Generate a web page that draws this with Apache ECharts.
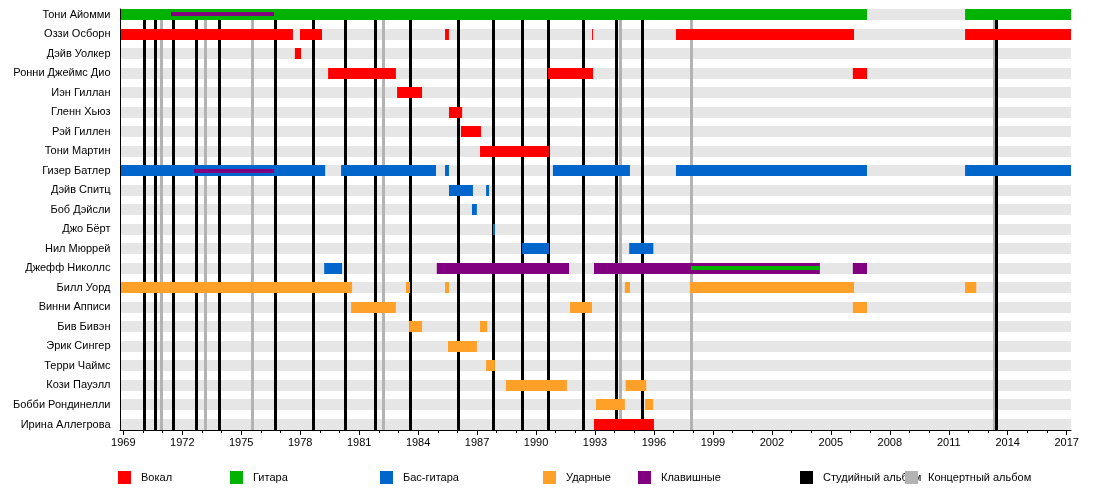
<!DOCTYPE html>
<html>
<head>
<meta charset="utf-8">
<title>Black Sabbath</title>
<script src="https://cdn.jsdelivr.net/npm/echarts@6/dist/echarts.min.js"></script>
<style>
    html, body {margin: 0; padding: 0; background: #fff;}
    #chart {width: 1100px; height: 489px;}
</style>
</head>
<body>
<div id="chart"></div>
<script>
// участники сверху вниз
var members = [
    'Тони Айомми', 'Оззи Осборн', 'Дэйв Уолкер', 'Ронни Джеймс Дио', 'Иэн Гиллан',
    'Гленн Хьюз', 'Рэй Гиллен', 'Тони Мартин', 'Гизер Батлер', 'Дэйв Спитц',
    'Боб Дэйсли', 'Джо Бёрт', 'Нил Мюррей', 'Джефф Николлс', 'Билл Уорд',
    'Винни Апписи', 'Бив Бивэн', 'Эрик Сингер', 'Терри Чаймс', 'Кози Пауэлл',
    'Бобби Рондинелли', 'Ирина Аллегрова'
];

var yearMin = 1968.857;
var yearMax = 2017.22;

// шкала: подписи каждые 3 года с 1969 по 2017
var tickStart = 1969;
var tickStep = 3;
var tickCount = 17;

var vocals = [
    ['Оззи Осборн', 1968.857, 1977.63], ['Оззи Осборн', 1977.99, 1979.11],
    ['Оззи Осборн', 1985.37, 1985.57], ['Оззи Осборн', 1992.85, 1992.9],
    ['Оззи Осборн', 1997.12, 2006.18], ['Оззи Осборн', 2011.83, 2017.22],
    ['Дэйв Уолкер', 1977.73, 1978.04],
    ['Ронни Джеймс Дио', 1979.42, 1982.87], ['Ронни Джеймс Дио', 1990.61, 1992.9],
    ['Ронни Джеймс Дио', 2006.12, 2006.84],
    ['Иэн Гиллан', 1982.93, 1984.2],
    ['Гленн Хьюз', 1985.57, 1986.24],
    ['Рэй Гиллен', 1986.18, 1987.2],
    ['Тони Мартин', 1987.15, 1990.66],
    ['Ирина Аллегрова', 1992.95, 1996.0]
];

var guitar = [
    ['Тони Айомми', 1968.857, 2006.84], ['Тони Айомми', 2011.83, 2017.22]
];
var guitarThin = [
    ['Джефф Николлс', 1997.88, 2004.44]
];

var bass = [
    ['Гизер Батлер', 1968.857, 1979.27], ['Гизер Батлер', 1980.08, 1984.91],
    ['Гизер Батлер', 1985.37, 1985.57], ['Гизер Батлер', 1990.86, 1994.78],
    ['Гизер Батлер', 1997.12, 2006.84], ['Гизер Батлер', 2011.83, 2017.22],
    ['Дэйв Спитц', 1985.57, 1986.79], ['Дэйв Спитц', 1987.46, 1987.61],
    ['Боб Дэйсли', 1986.74, 1986.99],
    ['Джо Бёрт', 1987.81, 1987.91],
    ['Нил Мюррей', 1989.29, 1990.66], ['Нил Мюррей', 1994.74, 1995.97],
    ['Джефф Николлс', 1979.22, 1980.13]
];

var drums = [
    ['Билл Уорд', 1968.857, 1980.64], ['Билл Уорд', 1983.38, 1983.59],
    ['Билл Уорд', 1985.37, 1985.57], ['Билл Уорд', 1994.52, 1994.78],
    ['Билл Уорд', 1997.83, 2006.18], ['Билл Уорд', 2011.83, 2012.4],
    ['Винни Апписи', 1980.59, 1982.87], ['Винни Апписи', 1991.73, 1992.85],
    ['Винни Апписи', 2006.12, 2006.84],
    ['Бив Бивэн', 1983.54, 1984.2], ['Бив Бивэн', 1987.15, 1987.51],
    ['Эрик Сингер', 1985.52, 1986.99],
    ['Терри Чаймс', 1987.46, 1987.91],
    ['Кози Пауэлл', 1988.47, 1991.57], ['Кози Пауэлл', 1994.56, 1995.61],
    ['Бобби Рондинелли', 1993.05, 1994.52], ['Бобби Рондинелли', 1995.55, 1995.96]
];

var keys = [
    ['Джефф Николлс', 1984.95, 1991.68], ['Джефф Николлс', 1992.95, 2004.44],
    ['Джефф Николлс', 2006.12, 2006.84]
];
var keysThin = [
    ['Тони Айомми', 1971.43, 1976.67], ['Гизер Батлер', 1972.6, 1976.67]
];

var studioAlbums = [1970.10, 1970.66, 1971.53, 1972.70, 1973.87, 1976.72, 1978.70,
    1980.28, 1981.81, 1983.60, 1986.05, 1987.83, 1989.30, 1990.62, 1992.44,
    1994.08, 1995.41, 2013.44];
var liveAlbums = [1970.92, 1973.16, 1975.55, 1982.26, 1994.28, 1997.90, 2013.32];

var FONT = "'Liberation Sans', Arial, sans-serif";

function toRows(list) {
    return list.map(function (d) {
        return [members.indexOf(d[0]), d[1], d[2]];
    });
}

// полоса участника
function barRenderer(h) {
    return function (params, api) {
        var row = api.value(0);
        var p0 = api.coord([api.value(1), row]);
        var p1 = api.coord([api.value(2), row]);
        return {
            type: 'rect',
            shape: {
                x: p0[0],
                y: Math.round(p0[1] - h / 2),
                width: Math.max(p1[0] - p0[0], 1),
                height: h
            },
            style: {fill: api.visual('color')}
        };
    };
}

// вертикальная линия альбома
function albumRenderer(params, api) {
    var year = api.value(0);
    var top = api.coord([year, 0]);
    var bottom = api.coord([year, members.length - 1]);
    var y0 = Math.round(top[1] - 5.5);
    var y1 = Math.round(bottom[1] - 5.5) + 11;
    return {
        type: 'rect',
        shape: {x: Math.round(top[0] - 1.5), y: y0, width: 3, height: y1 - y0},
        style: {fill: api.visual('color')}
    };
}

function barSeries(name, color, list, h, z) {
    return {
        name: name,
        type: 'custom',
        xAxisIndex: 0,
        yAxisIndex: 0,
        z: z,
        silent: true,
        itemStyle: {color: color},
        encode: {x: [1, 2], y: 0},
        renderItem: barRenderer(h),
        data: toRows(list)
    };
}

function albumSeries(name, color, list, z) {
    return {
        name: name,
        type: 'custom',
        xAxisIndex: 0,
        yAxisIndex: 0,
        z: z,
        silent: true,
        itemStyle: {color: color},
        encode: {x: 0, y: 1},
        renderItem: albumRenderer,
        data: list.map(function (y) { return [y, 0]; })
    };
}

var legendNames = ['Вокал', 'Гитара', 'Бас-гитара', 'Ударные', 'Клавишные', 'Студийный альбом', 'Концертный альбом'];
var legendLeft = [118, 230, 380, 543, 638, 800, 905];

var mychart = echarts.init(document.getElementById('chart'), null, {renderer: 'canvas'});

var option = {
    animation: false,
    backgroundColor: '#fff',
    textStyle: {fontFamily: FONT},
    grid: [
        {left: 120.5, right: 29, top: 4.738, height: 429.5},
        {left: 123.3, right: 33.3, top: 429, height: 1},
        {left: 120, top: 9, width: 951, height: 421}
    ],
    xAxis: [
        {gridIndex: 0, type: 'value', min: yearMin, max: yearMax, show: false},
        {
            gridIndex: 1, type: 'value', position: 'bottom',
            min: 0, max: (tickCount - 1) * tickStep, interval: tickStep,
            axisLine: {show: false},
            axisTick: {show: true, length: 5, lineStyle: {color: '#000'}},
            minorTick: {show: true, splitNumber: tickStep, length: 3, lineStyle: {color: '#000'}},
            splitLine: {show: false},
            minorSplitLine: {show: false},
            axisLabel: {
                margin: 7, fontSize: 11, color: '#000', fontFamily: FONT,
                formatter: function (v) { return String(tickStart + v); }
            }
        },
        {
            gridIndex: 2, type: 'value', min: 0, max: 1, z: 10,
            axisLine: {show: true, lineStyle: {color: '#000', width: 1}},
            axisTick: {show: false}, axisLabel: {show: false}, splitLine: {show: false}
        }
    ],
    yAxis: [
        {
            gridIndex: 0, type: 'category', inverse: true, data: members,
            axisLine: {show: false}, axisTick: {show: false}, splitLine: {show: false},
            axisLabel: {margin: 10, fontSize: 11, color: '#000', fontFamily: FONT}
        },
        {gridIndex: 1, type: 'value', show: false},
        {
            gridIndex: 2, type: 'value', min: 0, max: 1, z: 10,
            axisLine: {show: true, lineStyle: {color: '#000', width: 1}},
            axisTick: {show: false}, axisLabel: {show: false}, splitLine: {show: false}
        }
    ],
    legend: legendNames.map(function (name, i) {
        return {
            data: [name],
            left: legendLeft[i],
            top: 471,
            padding: 0,
            icon: 'rect',
            itemWidth: 13,
            itemHeight: 13,
            selectedMode: false,
            textStyle: {fontSize: 11, color: '#000', fontFamily: FONT, padding: [0, 0, 0, 5]}
        };
    }),
    series: [
        {
            name: 'фон',
            type: 'custom',
            xAxisIndex: 0,
            yAxisIndex: 0,
            z: 1,
            silent: true,
            itemStyle: {color: '#e6e6e6'},
            encode: {x: [1, 2], y: 0},
            renderItem: barRenderer(11),
            data: members.map(function (m, i) { return [i, yearMin, yearMax]; })
        },
        albumSeries('Концертный альбом', '#b3b3b3', liveAlbums, 2),
        albumSeries('Студийный альбом', '#000000', studioAlbums, 3),
        barSeries('Вокал', '#ff0000', vocals, 11, 4),
        barSeries('Гитара', '#00b300', guitar, 11, 4),
        barSeries('Бас-гитара', '#0066cc', bass, 11, 4),
        barSeries('Ударные', '#ffa028', drums, 11, 4),
        barSeries('Клавишные', '#800080', keys, 11, 4),
        barSeries('Клавишные', '#800080', keysThin, 4, 5),
        barSeries('Гитара', '#00b300', guitarThin, 4, 6)
    ]
};

mychart.setOption(option);
</script>
</body>
</html>
